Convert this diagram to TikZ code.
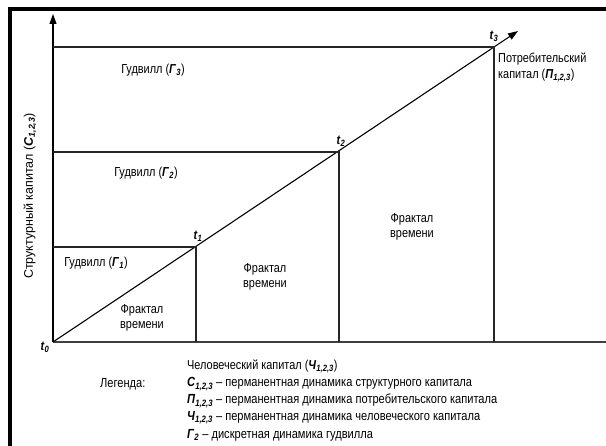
\documentclass[tikz,border=0pt]{standalone}
\usepackage{fontspec}
\setmainfont{Liberation Sans}[FakeStretch=0.84]
\newfontfamily\axisfont{Liberation Sans}
\usetikzlibrary{arrows.meta,positioning}

\newcommand{\capsym}[2]{\textbf{\textit{#1}}\textsubscript{\textbf{\textit{#2}}}}

\begin{document}
\begin{tikzpicture}[
  x=1pt, y=-1pt,
  frm/.style={line width=4pt, black},
  bound/.style={line width=1.1pt, black!85},
  axis/.style={line width=1.1pt, black, -{Triangle[length=10pt,width=7pt]}},
  lbl/.style={font=\fontsize{13}{15.5}\selectfont, align=center, inner sep=0pt},
  tlbl/.style={font=\fontsize{13}{15}\selectfont, inner sep=0pt},
  leg/.style={font=\fontsize{13.2}{15}\selectfont, anchor=west, inner sep=0pt}
]
\useasboundingbox (0,0) rectangle (606,446);

% --- Rahmen ---
\draw[frm] (10,450) -- (10,9) -- (610,9);

% --- Punkte ---
\coordinate (t0) at (53,342);
\coordinate (t1) at (196,247);
\coordinate (t2) at (339,152);
\coordinate (t3) at (494,47);
\coordinate (ytop) at (53,14);
\coordinate (tend) at (518,31);
\coordinate (xend) at (610,342);
\coordinate (c1) at (53,247);
\coordinate (c2) at (53,152);
\coordinate (c3) at (53,47);
\coordinate (b1) at (196,342);
\coordinate (b2) at (339,342);
\coordinate (b3) at (494,342);

% Achsen
\draw[axis] (t0) -- (ytop);
\draw[line width=1.8pt, black!75] (t0) -- (xend);
\draw[axis] (t0) -- (t3) -- (tend);

% Gudwill-Stufen
\draw[bound] (c1) -- (t1) -- (b1);
\draw[bound] (c2) -- (t2) -- (b2);
\draw[bound] (c3) -- (t3) -- (b3);

% Zeitpunkte
\node[tlbl] (lt0) at (45,347) {\capsym{t}{0}};
\node[tlbl] (lt1) at (198,236) {\capsym{t}{1}};
\node[tlbl] (lt2) at (341,141) {\capsym{t}{2}};
\node[tlbl] (lt3) at (494,36) {\capsym{t}{3}};

% --- Bereiche ---
\node[lbl] (g3) at (153,70) {Гудвилл (\capsym{Г}{3})};
\node[lbl] (g2) at (146,173) {Гудвилл (\capsym{Г}{2})};
\node[lbl] (g1) at (96,263) {Гудвилл (\capsym{Г}{1})};
\node[lbl] (f1) at (142,318) {Фрактал\\времени};
\node[lbl] (f2) at (265,277) {Фрактал\\времени};
\node[lbl] (f3) at (412,227) {Фрактал\\времени};
\node[lbl, align=left, anchor=north west] (pk) at (498,53)
  {Потребительский\\капитал (\capsym{П}{1,2,3})};

% Achsenbeschriftung
\node[font=\axisfont\fontsize{12.5}{14}\selectfont, rotate=90, inner sep=0pt] (ylab) at (30,196)
  {Структурный капитал (\capsym{С}{1,2,3})};
\node[lbl, anchor=west] (xlab) at (187,366) {Человеческий капитал (\capsym{Ч}{1,2,3})};

% --- Legende ---
\node[leg] (legh) at (100,384) {Легенда:};
\node[leg] (l1) at (187,384) {\capsym{С}{1,2,3} – перманентная динамика структурного капитала};
\node[leg] (l2) at (187,401) {\capsym{П}{1,2,3} – перманентная динамика потребительского капитала};
\node[leg] (l3) at (187,418) {\capsym{Ч}{1,2,3} – перманентная динамика человеческого капитала};
\node[leg] (l4) at (187,435) {\capsym{Г}{2} – дискретная динамика гудвилла};
\end{tikzpicture}
\end{document}
